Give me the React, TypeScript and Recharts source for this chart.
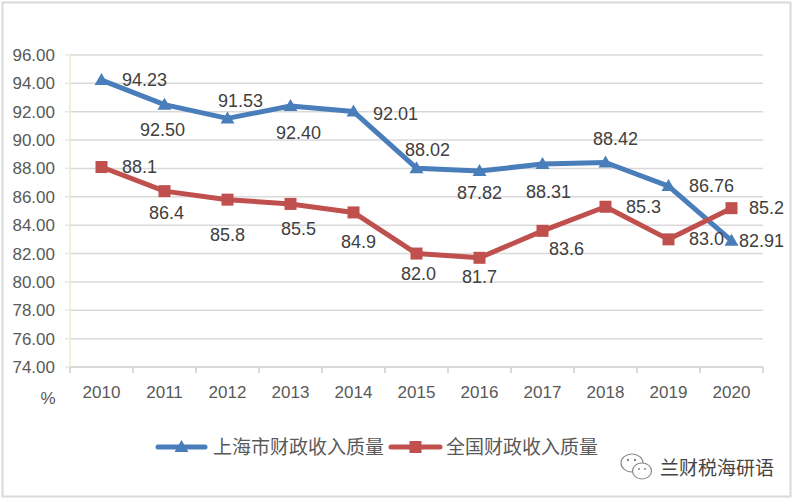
import React from 'react';
import { LineChart, Line, XAxis, YAxis, CartesianGrid, LabelList } from 'recharts';

const years = ['2010', '2011', '2012', '2013', '2014', '2015', '2016', '2017', '2018', '2019', '2020'];
const shanghai = [94.23, 92.5, 91.53, 92.4, 92.01, 88.02, 87.82, 88.31, 88.42, 86.76, 82.91];
const national = [88.1, 86.4, 85.8, 85.5, 84.9, 82.0, 81.7, 83.6, 85.3, 83.0, 85.2];
const yTicks = [74, 76, 78, 80, 82, 84, 86, 88, 90, 92, 94, 96];
const seriesNames = ['上海市财政收入质量', '全国财政收入质量'];
const unitLabel = '%';
const watermark = '兰财税海研语';

const data = years.map((y, i) => ({ year: y, sh: shanghai[i], cn: national[i] }));

// label placement offsets (style, relative to each point)
const shOffsets: [number, number][] = [[43, 0], [-2, 25], [13, -17], [8, 27], [42, 2], [11, -18], [0, 22], [6, 28], [10, -23], [43, 0], [30, 0]];
const cnOffsets: [number, number][] = [[38, 0], [2, 22], [0, 35], [8, 25], [5, 30], [2, 20], [0, 19], [24, 18], [38, 0], [38, 0], [35, 0]];

const W = 798;
const H = 503;
const LEFT = 70;
const RIGHT = 35;
const TOP = 55;
const PLOT_BOTTOM = 367;
const XAXIS_H = 30;
const BAND = (W - LEFT - RIGHT) / years.length;

const BLUE = '#4a7ebb';
const RED = '#c0504d';
const TEXT = '#595959';
const FONT = '"Liberation Sans", Arial, sans-serif';
const CJK = '"Noto Sans CJK SC", sans-serif';

const XTick = (props: any) => {
  const { x, y, payload, index } = props;
  return (
    <g>
      <line x1={x - BAND / 2} x2={x - BAND / 2} y1={y} y2={y + 6} stroke="#d9d9d9" strokeWidth={2} />
      {index === years.length - 1 && (
        <line x1={x + BAND / 2} x2={x + BAND / 2} y1={y} y2={y + 6} stroke="#d9d9d9" strokeWidth={2} />
      )}
      <text x={x} y={y + 31} textAnchor="middle" fill={TEXT} fontSize={17} fontFamily={FONT}>
        {payload.value}
      </text>
    </g>
  );
};

const TriDot = (props: any) => {
  const { cx, cy, index } = props;
  return <path key={`t${index}`} d={`M${cx},${cy - 7} L${cx + 7},${cy + 5} L${cx - 7},${cy + 5} Z`} fill={BLUE} />;
};

const SqDot = (props: any) => {
  const { cx, cy, index } = props;
  return <rect key={`s${index}`} x={cx - 6} y={cy - 6} width={12} height={12} fill={RED} />;
};

const makeLabel = (offsets: [number, number][], digits: number) => (p: any) => {
  const { x, y, value, index } = p;
  const [dx, dy] = offsets[index] || [0, 0];
  return (
    <text
      key={`l${digits}${index}`}
      x={Number(x) + dx}
      y={Number(y) + dy}
      textAnchor="middle"
      dominantBaseline="central"
      fill="#404040"
      fontSize={18}
      fontFamily={FONT}
    >
      {Number(value).toFixed(digits)}
    </text>
  );
};

export default function App() {
  return (
    <div style={{ position: 'absolute', left: 0, top: 0, width: W, height: H, background: '#fff' }}>
      <LineChart
        width={W}
        height={H}
        data={data}
        margin={{ top: TOP, right: RIGHT, left: 0, bottom: H - PLOT_BOTTOM - XAXIS_H }}
      >
        <CartesianGrid vertical={false} stroke="#d9d9d9" strokeWidth={1.5} />
        <XAxis
          dataKey="year"
          height={XAXIS_H}
          padding={{ left: BAND / 2, right: BAND / 2 }}
          axisLine={{ stroke: '#d9d9d9', strokeWidth: 2 }}
          tickLine={false}
          tickSize={0}
          tickMargin={0}
          interval={0}
          tick={<XTick />}
        />
        <YAxis
          width={LEFT}
          domain={[74, 96]}
          ticks={yTicks}
          interval={0}
          tickFormatter={(v: number) => v.toFixed(2)}
          axisLine={{ stroke: '#efe8d2', strokeWidth: 1.5 }}
          tickLine={{ stroke: '#efe8d2', strokeWidth: 1.5 }}
          tickSize={5}
          tickMargin={10}
          tick={{ fill: TEXT, fontSize: 17, fontFamily: FONT }}
        />
        <Line
          dataKey="sh"
          stroke={BLUE}
          strokeWidth={5}
          strokeLinejoin="round"
          dot={TriDot}
          activeDot={false}
          isAnimationActive={false}
        >
          <LabelList dataKey="sh" content={makeLabel(shOffsets, 2)} />
        </Line>
        <Line
          dataKey="cn"
          stroke={RED}
          strokeWidth={5}
          strokeLinejoin="round"
          dot={SqDot}
          activeDot={false}
          isAnimationActive={false}
        >
          <LabelList dataKey="cn" content={makeLabel(cnOffsets, 1)} />
        </Line>
      </LineChart>
      <svg width={W} height={H} style={{ position: 'absolute', left: 0, top: 0, pointerEvents: 'none' }}>
        <rect x={2.5} y={2.5} width={788} height={494} fill="none" stroke="#d9d9d9" strokeWidth={2} />
        <text x={48} y={404} textAnchor="middle" fill={TEXT} fontSize={17} fontFamily={FONT}>
          {unitLabel}
        </text>
        {/* legend */}
        <line x1={158} x2={205} y1={447} y2={447} stroke={BLUE} strokeWidth={5} strokeLinecap="round" />
        <path d="M181.5,440 L188.5,452 L174.5,452 Z" fill={BLUE} />
        <text x={213} y={454} fill={TEXT} fontSize={19} fontFamily={CJK}>
          {seriesNames[0]}
        </text>
        <line x1={391} x2={440} y1={447} y2={447} stroke={RED} strokeWidth={5} strokeLinecap="round" />
        <rect x={409.5} y={441} width={12} height={12} fill={RED} />
        <text x={446} y={454} fill={TEXT} fontSize={19} fontFamily={CJK}>
          {seriesNames[1]}
        </text>
        {/* watermark */}
        <ellipse cx={632} cy={463} rx={11} ry={9} fill="#fff" stroke="#888" strokeWidth={1.2} />
        <ellipse cx={642} cy={471} rx={9.5} ry={8} fill="#fff" stroke="#888" strokeWidth={1.2} />
        <circle cx={628} cy={460} r={1.2} fill="#888" />
        <circle cx={635} cy={460} r={1.2} fill="#888" />
        <circle cx={639} cy={469} r={1} fill="#888" />
        <circle cx={645} cy={469} r={1} fill="#888" />
        <text x={660} y={475} fill="#444" fontSize={19} fontFamily={CJK}>
          {watermark}
        </text>
      </svg>
    </div>
  );
}
